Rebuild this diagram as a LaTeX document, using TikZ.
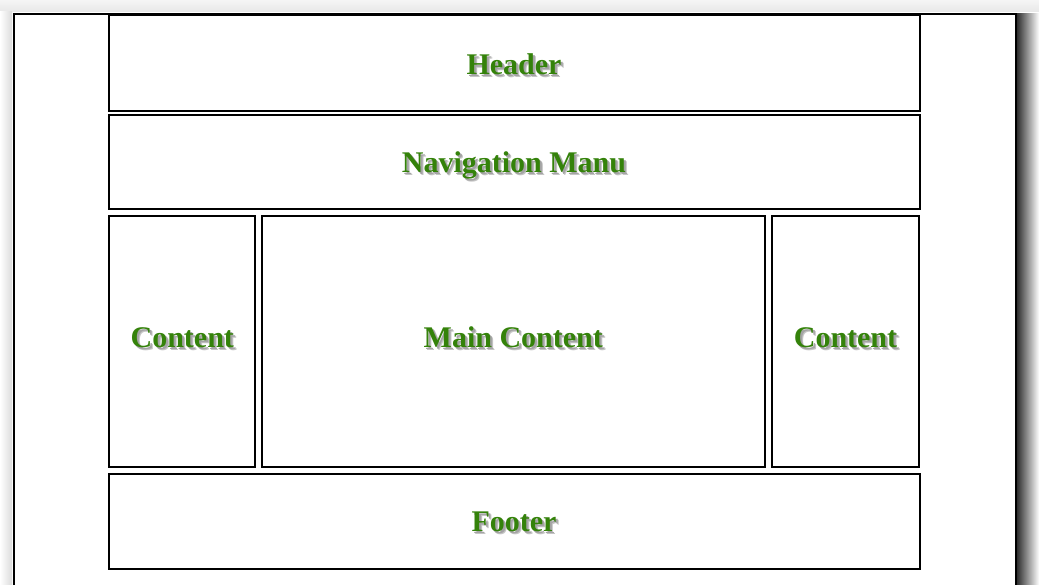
\documentclass[tikz,border=0pt]{standalone}
\usepackage{fontspec}
\setmainfont{Liberation Serif}
\definecolor{myGreen}{HTML}{34820A}
\definecolor{myGrey}{HTML}{5A5A5A}
% green text with a soft grey shadow
\newcommand{\shtext}[1]{\rlap{\kern3pt\raisebox{-3.5pt}{\color{myGrey!35}#1}}\rlap{\kern2pt\raisebox{-2pt}{\color{myGrey!55}#1}}#1}

\begin{document}
\begin{tikzpicture}[x=1pt, y=-1pt, line width=2pt]
  \tikzstyle{Box}=[draw=black, fill=white, inner sep=0pt]
  \tikzstyle{T}=[text=myGreen, inner sep=0pt, text height=20pt, text depth=0pt, font=\bfseries\fontsize{30}{30}\selectfont]

  \useasboundingbox (0,0) rectangle (1039,585);
  \fill[white] (0,0) rectangle (1039,585);

  % shadow round the page
  \shade[top color=black!4, bottom color=black!9] (0,0) rectangle (1039,12);
  \shade[left color=white, right color=black!14] (0,12) rectangle (12,585);
  \shade[left color=black!85, right color=white] (1016,14) rectangle (1039,585);

  \node[Box, minimum width=1002, minimum height=600, anchor=north west] at (13,13) (page) {};

  \node[Box, minimum width=811, minimum height=96] at (514,63) (header) {};
  \node[Box, minimum width=811, minimum height=94] at (514,162) (nav) {};
  \node[Box, minimum width=146, minimum height=251] at (182.3,341.5) (leftCol) {};
  \node[Box, minimum width=503, minimum height=251] at (513.3,341.5) (mainCol) {};
  \node[Box, minimum width=147, minimum height=251] at (845.5,341.5) (rightCol) {};
  \node[Box, minimum width=811, minimum height=95] at (514,521) (footer) {};

  \node[T] at ([yshift=-1.5pt]header) (headerText) {\shtext{Header}};
  \node[T] at ([yshift=-0.5pt]nav) (navText) {\shtext{Navigation Manu}};
  \node[T] at ([yshift=4pt]leftCol) (leftText) {\shtext{Content}};
  \node[T] at ([yshift=4pt]mainCol) (mainText) {\shtext{Main Content}};
  \node[T] at ([yshift=4pt]rightCol) (rightText) {\shtext{Content}};
  \node[T] at (footer) (footerText) {\shtext{Footer}};

\end{tikzpicture}
\end{document}
